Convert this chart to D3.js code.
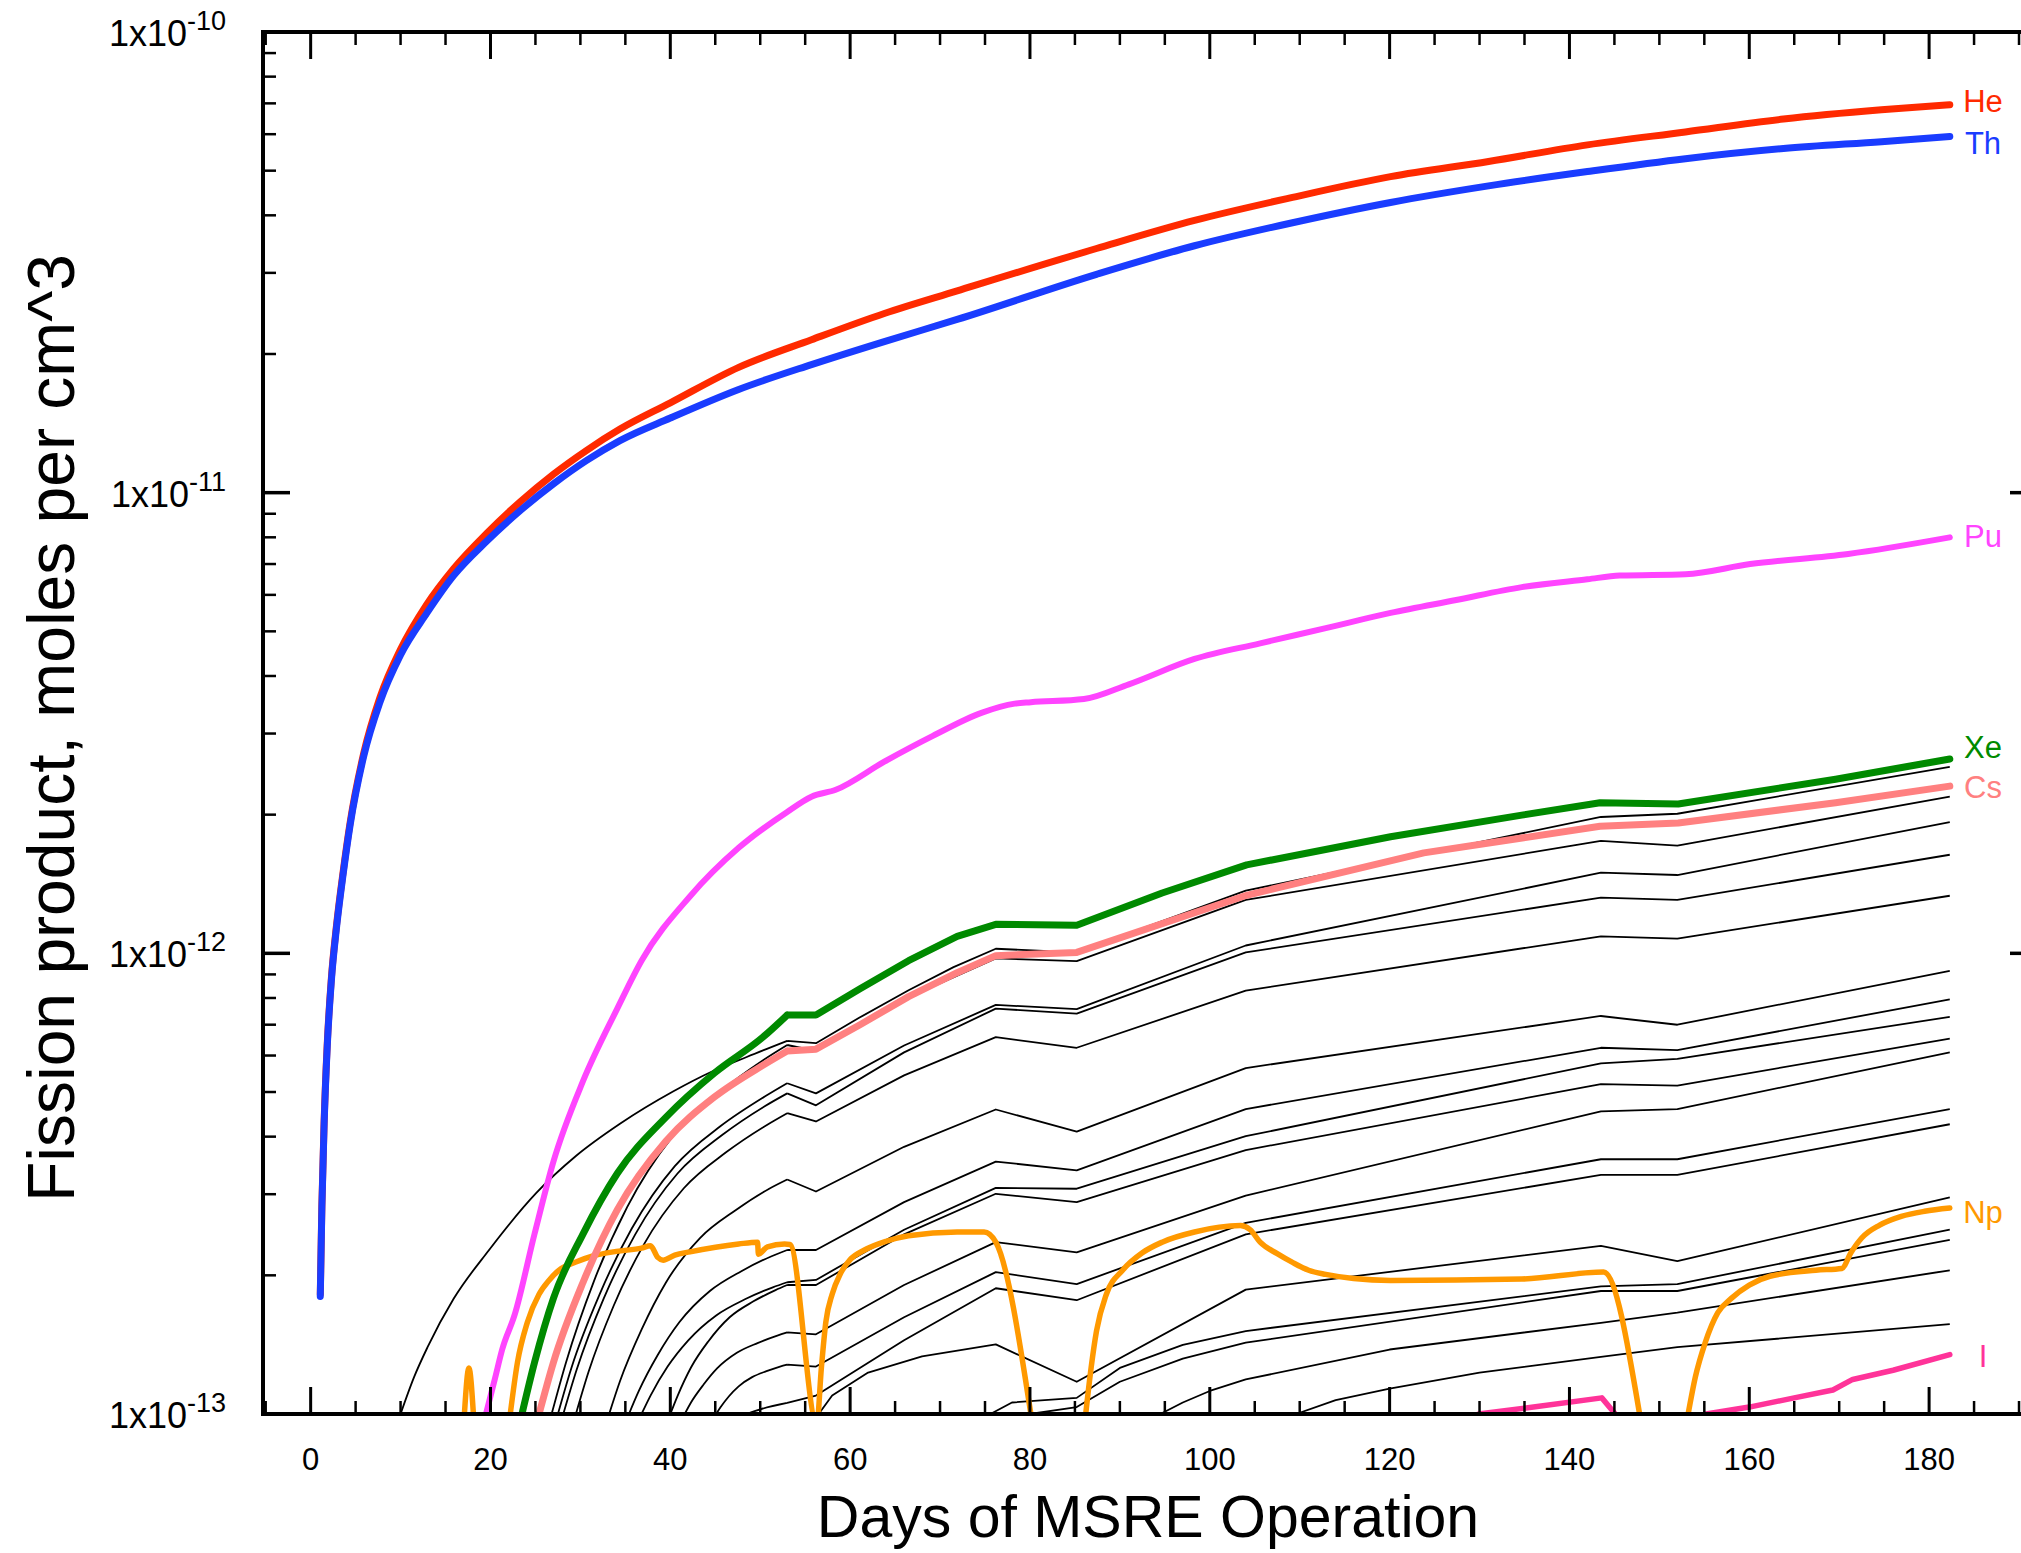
<!DOCTYPE html>
<html><head><meta charset="utf-8">
<script src="https://cdn.jsdelivr.net/npm/d3@7"></script>
<style>
body{margin:0;background:#fff}
svg{display:block}
text{font-family:"Liberation Sans",Arial,Helvetica,sans-serif}
</style></head><body>
<svg id="chart" width="2021" height="1553"></svg>
<script>
// ---- DATA: [day, log10(moles per cm^3)] ----
const heData = [[1.07,-12.74],[1.25,-12.545],[1.5,-12.365],[1.85,-12.195],[2.3,-12.055],[2.9,-11.935],[3.6,-11.825],[4.4,-11.715],[5.9,-11.566],[7.7,-11.445],[10,-11.340],[12.9,-11.243],[15.9,-11.165],[19.6,-11.088],[23.3,-11.02],[27,-10.96],[30.7,-10.908],[34.4,-10.862],[40,-10.805],[47.6,-10.728],[55.7,-10.668],[63.8,-10.611],[71.9,-10.562],[87.4,-10.470],[98.3,-10.409],[109.2,-10.359],[120.1,-10.314],[131,-10.281],[142,-10.245],[152.9,-10.217],[163.8,-10.189],[174.7,-10.169],[182.3,-10.158]];
const thData = [[1.07,-12.745],[1.25,-12.55],[1.5,-12.37],[1.85,-12.2],[2.3,-12.06],[2.9,-11.94],[3.6,-11.83],[4.4,-11.72],[5.9,-11.572],[7.7,-11.455],[10,-11.352],[12.9,-11.262],[15.9,-11.18],[19.6,-11.105],[23.3,-11.039],[27,-10.981],[30.7,-10.93],[34.4,-10.887],[40,-10.838],[47.6,-10.776],[55.7,-10.722],[63.8,-10.672],[71.9,-10.624],[87.4,-10.526],[98.3,-10.464],[109.2,-10.414],[120.1,-10.370],[131,-10.334],[142,-10.303],[152.9,-10.275],[163.8,-10.253],[174.7,-10.238],[182.3,-10.227]];
const puData = [[19.5,-13.0],[20.5,-12.923],[21.3,-12.86],[22.7,-12.784],[24.9,-12.609],[27,-12.452],[30.3,-12.277],[34.1,-12.12],[36.8,-12.016],[42.2,-11.876],[47.6,-11.771],[53,-11.693],[55.7,-11.66],[58.4,-11.645],[63.8,-11.584],[69.2,-11.528],[74.6,-11.478],[78.3,-11.458],[80.1,-11.455],[86,-11.448],[91,-11.416],[98.3,-11.361],[105.6,-11.327],[112.9,-11.294],[120.1,-11.261],[127.4,-11.233],[134.7,-11.205],[142,-11.188],[145.6,-11.180],[152.9,-11.177],[160.1,-11.155],[171,-11.133],[182.3,-11.097]];
const xeData = [[23.5,-13.0],[24.9,-12.888],[27,-12.749],[30.3,-12.609],[34.1,-12.478],[39.5,-12.356],[44.9,-12.26],[50.3,-12.182],[53,-12.134],[56.2,-12.134],[61.1,-12.077],[66.5,-12.016],[71.9,-11.963],[76.2,-11.937],[85.2,-11.939],[94.7,-11.869],[104.1,-11.808],[120.1,-11.747],[134.7,-11.70],[143.4,-11.673],[152.1,-11.676],[169.6,-11.622],[182.3,-11.578]];
const csData = [[25.4,-13.0],[27,-12.888],[30.3,-12.714],[34.1,-12.557],[39.5,-12.408],[44.9,-12.312],[50.3,-12.243],[53,-12.212],[56.2,-12.208],[61.1,-12.155],[66.5,-12.094],[71.9,-12.042],[76.2,-12.005],[85.2,-11.998],[104.1,-11.874],[123.8,-11.782],[143.4,-11.724],[152.1,-11.717],[169.6,-11.673],[182.3,-11.637]];
const npData = [[17.1,-13.0],[17.6,-12.90],[18.1,-13.0],null,[22.2,-13.0],[23.0,-12.888],[24.1,-12.801],[25.4,-12.740],[26.5,-12.71],[27.6,-12.688],[29.5,-12.67],[31.4,-12.657],[34,-12.647],[36.8,-12.640],[37.8,-12.635],[38.6,-12.66],[39.2,-12.666],[40.5,-12.655],[42.2,-12.648],[47.6,-12.631],[49.7,-12.627],[49.8,-12.653],[50.8,-12.637],[52.7,-12.631],[53.3,-12.632],[56.3,-13.02],[56.8,-12.9],[57.3,-12.80],[58.0,-12.74],[58.9,-12.696],[60,-12.665],[61.6,-12.644],[64,-12.625],[66.5,-12.613],[71.9,-12.605],[74.9,-12.605],[76.2,-12.627],[80.1,-13.0],null,[86.2,-13.0],[86.8,-12.9],[87.4,-12.82],[88.5,-12.74],[90.3,-12.688],[92.5,-12.65],[94.7,-12.627],[98.3,-12.605],[103.4,-12.591],[104.5,-12.60],[105.6,-12.627],[107.5,-12.652],[109.2,-12.671],[111,-12.688],[112.9,-12.697],[116,-12.706],[120.1,-12.710],[134.7,-12.707],[143.8,-12.692],[147.8,-13.0],null,[153.2,-13.0],[154,-12.92],[155.1,-12.845],[156.5,-12.78],[158,-12.749],[160,-12.72],[162.3,-12.701],[167.4,-12.688],[170.3,-12.684],[171.3,-12.65],[172.5,-12.618],[174.5,-12.59],[176.9,-12.571],[179.5,-12.56],[182.3,-12.553]];
const iData = [[129.9,-13.0],[136,-12.985],[143.6,-12.965],[145.1,-13.0],null,[155.2,-13.0],[160,-12.985],[165,-12.965],[169.3,-12.948],[171.5,-12.925],[176,-12.905],[182.3,-12.871]];

// unlabelled fission products (thin black lines)
const otherProducts = [
 [[10.0,-13.0],[11.5,-12.92],[13,-12.855],[15.9,-12.75],[19.8,-12.645],[25.1,-12.52],[29.5,-12.44],[34.4,-12.37],[40.3,-12.30],[44.7,-12.256],[48.5,-12.225],[53,-12.19],[56.2,-12.195],[61,-12.14],[66.5,-12.08],[71.5,-12.03],[76.2,-11.990],[85.2,-11.998],[104,-11.864],[143.5,-11.704],[152,-11.697],[182.3,-11.595]],
 [[26.8,-13.0],[28.4,-12.888],[31.5,-12.712],[35.2,-12.551],[40.2,-12.399],[45.4,-12.303],[50.4,-12.231],[53,-12.199],[56.2,-12.212],[66,-12.10],[76.2,-12.011],[85.2,-12.017],[104,-11.884],[143.5,-11.756],[152,-11.766],[182.3,-11.66]],
 [[27.5,-13.0],[29.0,-12.90],[32.1,-12.742],[35.7,-12.598],[40.5,-12.462],[45.6,-12.375],[50.5,-12.311],[53,-12.282],[56.2,-12.304],[66,-12.20],[76.2,-12.112],[85.2,-12.121],[104,-11.983],[143.5,-11.825],[152,-11.83],[182.3,-11.715]],
 [[28.1,-13.0],[29.6,-12.903],[32.6,-12.749],[36.1,-12.61],[40.8,-12.478],[45.8,-12.394],[50.5,-12.332],[53,-12.304],[56.2,-12.330],[66,-12.215],[76.2,-12.120],[85.2,-12.131],[104,-11.998],[143.5,-11.879],[152,-11.884],[182.3,-11.786]],
 [[29.5,-13.0],[30.9,-12.909],[33.7,-12.765],[37.0,-12.634],[41.5,-12.51],[46.2,-12.432],[50.7,-12.373],[53,-12.347],[56.2,-12.365],[66,-12.265],[76.2,-12.182],[85.2,-12.205],[104,-12.081],[143.5,-11.963],[152,-11.968],[182.3,-11.875]],
 [[33.2,-13.0],[34.4,-12.929],[36.8,-12.817],[39.5,-12.715],[43.3,-12.618],[47.3,-12.557],[51.0,-12.511],[53,-12.491],[56.2,-12.517],[66,-12.42],[76.2,-12.339],[85.2,-12.387],[104,-12.249],[143.5,-12.136],[152,-12.155],[182.3,-12.038]],
 [[35.4,-13.0],[36.5,-12.95],[38.6,-12.872],[41.0,-12.801],[44.4,-12.733],[47.9,-12.69],[51.2,-12.658],[53,-12.644],[56.2,-12.644],[66,-12.54],[76.2,-12.452],[85.2,-12.471],[104,-12.338],[143.5,-12.205],[152,-12.210],[182.3,-12.100]],
 [[36.8,-13.0],[37.8,-12.96],[39.7,-12.897],[42.0,-12.84],[45.1,-12.786],[48.3,-12.751],[51.4,-12.725],[53,-12.714],[56.2,-12.709],[66,-12.60],[76.2,-12.509],[85.2,-12.511],[104,-12.397],[143.5,-12.239],[152,-12.229],[182.3,-12.138]],
 [[40,-13.0],[40.8,-12.961],[42.3,-12.899],[44.2,-12.843],[46.6,-12.79],[49.2,-12.756],[51.7,-12.731],[53,-12.72],[56.2,-12.72],[66,-12.61],[76.2,-12.522],[85.2,-12.540],[104,-12.427],[143.5,-12.284],[152,-12.287],[182.3,-12.185]],
 [[41.6,-13.0],[42.3,-12.975],[43.7,-12.936],[45.2,-12.901],[47.4,-12.867],[49.7,-12.846],[51.9,-12.83],[53,-12.823],[56.2,-12.827],[66,-12.72],[76.2,-12.627],[85.2,-12.649],[104,-12.526],[143.5,-12.343],[152,-12.338],[182.3,-12.215]],
 [[45.1,-13.0],[45.6,-12.985],[46.5,-12.962],[47.6,-12.94],[49.1,-12.92],[50.7,-12.907],[52.2,-12.897],[53,-12.893],[56.2,-12.897],[66,-12.79],[76.2,-12.692],[85.2,-12.718],[104,-12.585],[143.5,-12.447],[152,-12.447],[182.3,-12.338]],
 [[48.5,-13.0],[50,-12.99],[53,-12.976],[56.2,-12.96],[66,-12.84],[76.2,-12.727],[85.2,-12.753],[104,-12.610],[143.5,-12.481],[152,-12.481],[182.3,-12.371]],
 [[56.5,-13.0],[58,-12.96],[62,-12.91],[68,-12.875],[76.2,-12.849],[85.2,-12.93],[104,-12.73],[143.5,-12.635],[152,-12.668],[182.3,-12.530]],
 [[75.6,-13.0],[78,-12.975],[85.2,-12.965],[90,-12.9],[97,-12.85],[104,-12.82],[143.5,-12.723],[152,-12.718],[182.3,-12.600]],
 [[80,-13.0],[85.2,-12.985],[90,-12.93],[97,-12.88],[104,-12.845],[143.5,-12.733],[152,-12.733],[182.3,-12.622]],
 [[94.5,-13.0],[97,-12.975],[100,-12.95],[104,-12.925],[120,-12.86],[143.5,-12.802],[152,-12.780],[182.3,-12.688]],
 [[109.6,-13.0],[114,-12.97],[120,-12.945],[130,-12.91],[143.5,-12.876],[152,-12.855],[182.3,-12.805]]
];

const seriesNames = ["I","Np","Cs","Xe","Pu","He","Th"];
const seriesData = [iData, npData, csData, xeData, puData, heData, thData];

const xTickValues = [0,20,40,60,80,100,120,140,160,180];
const xTickLabels = ["0","20","40","60","80","100","120","140","160","180"];
const yTickExponents = [-13,-12,-11,-10];
const yTickLabels = ["1x10","1x10","1x10","1x10"];
const yTickSuper = ["-13","-12","-11","-10"];
const xTitle = "Days of MSRE Operation";
const yTitle = "Fission product, moles per cm^3";

// ---- STYLE / LAYOUT ----
const colors = {He:"#ff2a00",Th:"#1a3cff",Pu:"#ff44ff",Xe:"#008a00",Cs:"#ff8080",Np:"#ff9900",I:"#ff3399"};
const widths = {He:7,Th:7,Pu:6,Xe:7,Cs:7,Np:5.5,I:5.5};
const smooth = {He:true,Th:true,Pu:true,Np:true,Xe:false,Cs:false,I:false};
const labelDy = {He:7,Th:17,Pu:10,Xe:-1,Cs:12,Np:15,I:12};
const L = 263, R = 2037, T = 32, B = 1414;
const SPLIT = 53; // smooth rise before, straight segments after

const svg = d3.select("#chart");
svg.append("rect").attr("width",2021).attr("height",1553).attr("fill","#fff");

const x = d3.scaleLinear().domain([-5.3,192.0]).range([L,R]);
const y = d3.scaleLog().domain([1e-13,1e-10]).range([B,T]);

svg.append("defs").append("clipPath").attr("id","plotclip")
  .append("rect").attr("x",L).attr("y",T).attr("width",R-L).attr("height",B-T);

const lineSmooth = d3.line().defined(d => d !== null)
  .x(d => x(d[0])).y(d => y(Math.pow(10,d[1]))).curve(d3.curveMonotoneX);
const lineStraight = d3.line().defined(d => d !== null)
  .x(d => x(d[0])).y(d => y(Math.pow(10,d[1]))).curve(d3.curveLinear);
// early rise drawn smooth, later part drawn with straight segments
function splitPath(d){
  const early = d.filter(p => p !== null && p[0] <= SPLIT);
  const late = d.filter(p => p !== null && p[0] >= SPLIT);
  return (early.length > 1 ? lineSmooth(early) : "") + (late.length > 1 ? lineStraight(late) : "");
}

const g = svg.append("g").attr("clip-path","url(#plotclip)");
g.selectAll("path.other").data(otherProducts).enter().append("path")
  .attr("class","other").attr("d",splitPath)
  .attr("fill","none").attr("stroke","#000").attr("stroke-width",1.8)
  .attr("stroke-linejoin","round");
seriesNames.forEach((n,i) => {
  const dd = seriesData[i];
  const path = smooth[n] ? lineSmooth(dd) : (n === "I" ? lineStraight(dd) : splitPath(dd));
  g.append("path").attr("d",path)
    .attr("fill","none").attr("stroke",colors[n]).attr("stroke-width",widths[n])
    .attr("stroke-linecap","round").attr("stroke-linejoin","round");
});

// series labels
seriesNames.forEach((n,i) => {
  const d = seriesData[i];
  const last = d[d.length-1];
  svg.append("text").attr("x",1983).attr("y",y(Math.pow(10,last[1]))+labelDy[n])
    .attr("text-anchor","middle").attr("font-size",31).attr("fill",colors[n]).text(n);
});

// ---- AXES / FRAME ----
const ax = svg.append("g").attr("stroke","#000").attr("fill","none");
const MAJ = 27, MIN = 13;
const xMinor = d3.range(-5,191,5).filter(v => v % 20 !== 0);
xTickValues.forEach(v => {
  ax.append("line").attr("x1",x(v)).attr("x2",x(v)).attr("y1",B).attr("y2",B-MAJ).attr("stroke-width",3);
  ax.append("line").attr("x1",x(v)).attr("x2",x(v)).attr("y1",T).attr("y2",T+MAJ).attr("stroke-width",3);
});
xMinor.forEach(v => {
  ax.append("line").attr("x1",x(v)).attr("x2",x(v)).attr("y1",B).attr("y2",B-MIN).attr("stroke-width",2.5);
  ax.append("line").attr("x1",x(v)).attr("x2",x(v)).attr("y1",T).attr("y2",T+MIN).attr("stroke-width",2.5);
});
yTickExponents.forEach(e => {
  const yy = y(Math.pow(10,e));
  ax.append("line").attr("x1",L).attr("x2",L+MAJ).attr("y1",yy).attr("y2",yy).attr("stroke-width",3.5);
  ax.append("line").attr("x1",R).attr("x2",R-MAJ).attr("y1",yy).attr("y2",yy).attr("stroke-width",3.5);
  if (e < -10) {
    for (let k=2;k<=9;k++){
      const ym = y(k*Math.pow(10,e));
      ax.append("line").attr("x1",L).attr("x2",L+MIN).attr("y1",ym).attr("y2",ym).attr("stroke-width",2.5);
      ax.append("line").attr("x1",R).attr("x2",R-MIN).attr("y1",ym).attr("y2",ym).attr("stroke-width",2.5);
    }
  }
});
ax.append("rect").attr("x",L).attr("y",T).attr("width",R-L).attr("height",B-T).attr("stroke-width",4);

// tick labels
xTickValues.forEach((v,i) => {
  svg.append("text").attr("x",x(v)).attr("y",1470).attr("text-anchor","middle")
    .attr("font-size",31).attr("fill","#000").text(xTickLabels[i]);
});
yTickExponents.forEach((e,i) => {
  const t = svg.append("text").attr("x",226).attr("y",y(Math.pow(10,e))+14)
    .attr("text-anchor","end").attr("font-size",36).attr("fill","#000");
  t.append("tspan").text(yTickLabels[i]);
  t.append("tspan").attr("font-size",27).attr("dy",-16).text(yTickSuper[i]);
});

// titles
svg.append("text").attr("x",1148).attr("y",1537).attr("text-anchor","middle")
  .attr("font-size",59).attr("fill","#000").text(xTitle);
svg.append("text").attr("transform","translate(74,728) rotate(-90)").attr("text-anchor","middle")
  .attr("font-size",66).attr("fill","#000").text(yTitle);
</script>
</body></html>
